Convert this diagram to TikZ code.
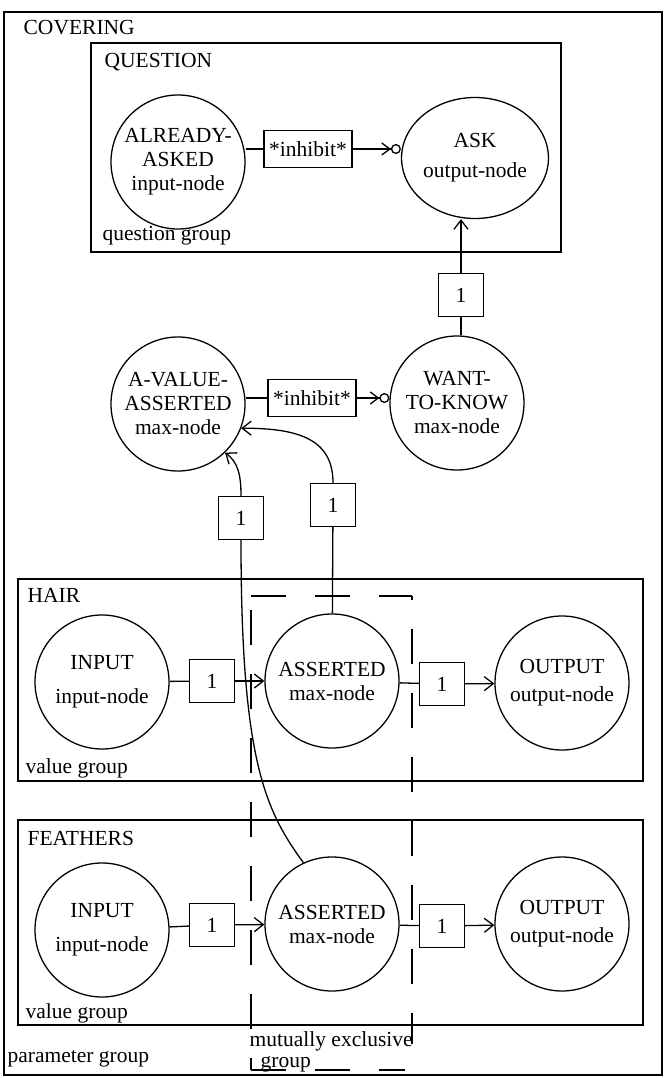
\documentclass[tikz,border=0pt]{standalone}
\usepackage{fontspec}
\setmainfont{Liberation Serif}
\usetikzlibrary{shapes,arrows.meta,positioning,calc}

\begin{document}
\begin{tikzpicture}[x=1pt,y=-1pt,
        font=\fontsize{21.5}{24}\selectfont,
        line width=1.3pt,
        neuron/.style={draw,circle,minimum size=134pt,inner sep=0pt,align=center},
        weight/.style={draw,minimum width=45pt,minimum height=43pt,inner sep=0pt},
        inhbox/.style={draw,minimum width=88pt,minimum height=37pt,inner sep=0pt},
        lbl/.style={anchor=base west,inner sep=0pt},
        arr/.style={-{Straight Barb[length=9pt,width=14pt]}},
        inh/.style={-{Straight Barb[length=8pt,width=12pt,sep=0pt]Circle[open,length=10pt,width=10pt]}},
        mutex/.style={line width=1.1pt,dash pattern=on 35pt off 29pt}]
    \useasboundingbox (0,0) rectangle (665,1078);

    % Covering (parameter group)
    \draw (4,12) rectangle (662,1075);
    \node[lbl] (covering) at (23,35) {COVERING};
    \node[lbl] (param) at (7,1062) {parameter group};

    % Question group
    \draw (91,43) rectangle (561,252);
    \node[lbl] (question) at (104,68) {QUESTION};
    \node[lbl] (qgroup) at (102,240) {question group};
    \node[neuron] (asked) at (178,162) {ALREADY-\\ASKED\\input-node};
    \node[neuron,ellipse,minimum width=135pt,minimum height=121pt] (ask) at (475,158) {ASK\\[6pt]output-node};
    \node[inhbox] (inh1) at (308,149) {*inhibit*};
    \draw (asked.east |- inh1) -- (inh1);
    \draw[inh] (inh1) -- (inh1 -| ask.west);

    % Max-nodes of the parameter
    \node[weight] (w1) at (461,295) {1};
    \draw[arr] (w1) -- (w1 |- ask.south);
    \node[neuron] (avalue) at (178,404) {A-VALUE-\\ASSERTED\\max-node};
    \node[neuron] (want) at (457,403) {WANT-\\TO-KNOW\\max-node};
    \draw (w1) -- (w1 |- want.north);
    \node[inhbox] (inh2) at (312,398) {*inhibit*};
    \draw (avalue.east |- inh2) -- (inh2);
    \draw[inh] (inh2) -- (inh2 -| want.west);
    \node[weight] (w2) at (241,518) {1};
    \node[weight] (w3) at (333,505) {1};
    \draw[arr] (w3.north) .. controls (333,440) and (300,428) .. (avalue.-21);
    \draw[arr] (w2.north) .. controls (241,475) and (238,462) .. (avalue.-46);

    % Hair value group
    \draw (18,579) rectangle (643,781);
    \node[lbl] (hair) at (27,602) {HAIR};
    \node[lbl] (hvgroup) at (25,773) {value group};
    \node[neuron] (hin) at (102,682) {INPUT\\[10pt]input-node};
    \node[neuron] (hass) at (332,681) {ASSERTED\\max-node};
    \node[neuron] (hout) at (562,683) {OUTPUT\\[4pt]output-node};
    \node[weight] (h1) at (212,681) {1};
    \node[weight] (h2) at (442,684) {1};
    \draw (hin) -- (h1);
    \draw[arr] (h1) -- (hass);
    \draw (hass) -- (h2);
    \draw[arr] (h2) -- (hout);
    \draw (hass) -- (w3);

    % Feathers value group
    \draw (18,820) rectangle (643,1025);
    \node[lbl] (feathers) at (27,845) {FEATHERS};
    \node[lbl] (fvgroup) at (25,1018) {value group};
    \node[neuron] (fin) at (102,930) {INPUT\\[10pt]input-node};
    \node[neuron] (fass) at (332,924) {ASSERTED\\max-node};
    \node[neuron] (fout) at (562,924) {OUTPUT\\[4pt]output-node};
    \node[weight] (f1) at (212,925) {1};
    \node[weight] (f2) at (442,926) {1};
    \draw (fin) -- (f1);
    \draw[arr] (f1) -- (fass);
    \draw (fass) -- (f2);
    \draw[arr] (f2) -- (fout);
    \draw (w2.south) .. controls (241,760) and (265,810) .. (fass.115);

    % Mutually exclusive group
    \draw[mutex] (251,596) -- (412,596);
    \draw[mutex,dash phase=50pt] (251,596) -- (251,1070);
    \draw[mutex,dash phase=31pt] (412,596) -- (412,1044);
    \draw[mutex] (251,1070) -- (405,1070);
    \node[lbl] (mutexlbl) at (249,1046) {mutually exclusive};
    \node[lbl] (mgroup) at (260,1067) {group};
\end{tikzpicture}
\end{document}
